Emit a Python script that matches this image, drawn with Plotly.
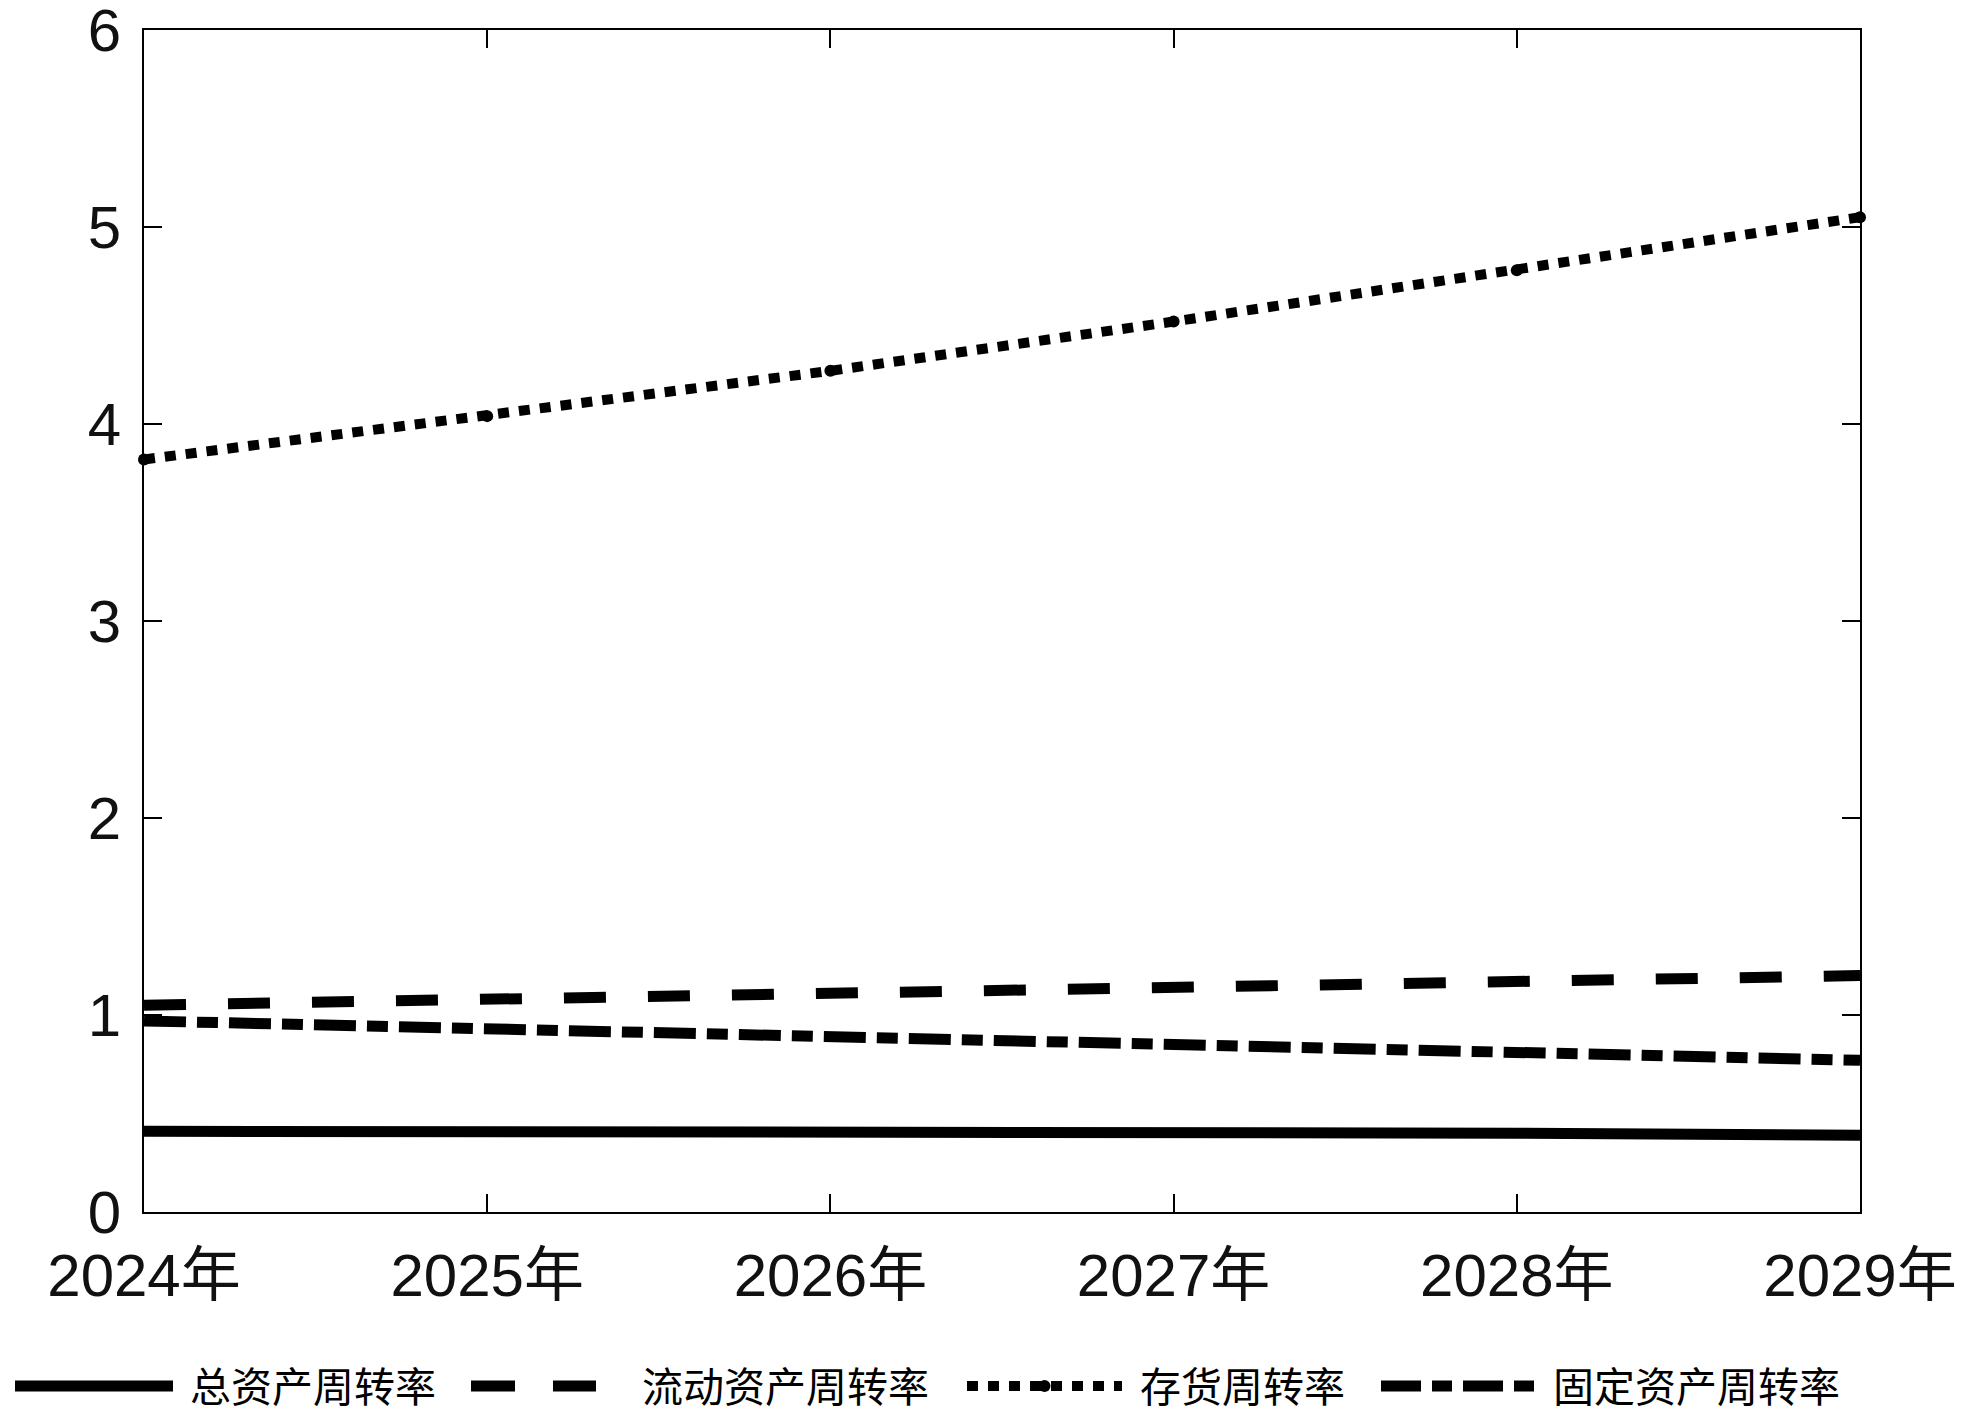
import plotly.graph_objects as go

years = ["2024年", "2025年", "2026年", "2027年", "2028年", "2029年"]
names = ["总资产周转率", "流动资产周转率", "存货周转率", "固定资产周转率"]
total_turnover = [0.41, 0.41, 0.40, 0.40, 0.40, 0.39]
current_turnover = [1.05, 1.08, 1.11, 1.14, 1.17, 1.20]
inventory_turnover = [3.82, 4.04, 4.27, 4.52, 4.78, 5.05]
fixed_turnover = [0.97, 0.93, 0.89, 0.85, 0.81, 0.77]
y_ticks = [0, 1, 2, 3, 4, 5, 6]

series = [total_turnover, current_turnover, inventory_turnover, fixed_turnover]
dashes = ["solid", "42px,42px", "11px,10px", "42px,11px,21px,11px"]
widths = [11, 11, 10, 11]

# page has an 8px body margin; size the figure so it fits the window
OFF = 8
W, H = 1969 - OFF, 1413 - OFF
ML, MR, MT, MB = 144 - OFF, 109, 30 - OFF, 201

fig = go.Figure()
for i, (vals, nm, d) in enumerate(zip(series, names, dashes)):
    fig.add_trace(go.Scatter(
        x=years, y=vals, name=nm,
        mode="lines+markers" if i == 2 else "lines",
        line=dict(color="black", width=widths[i], dash=d),
        marker=dict(color="black", size=12, symbol="circle"),
        cliponaxis=False, showlegend=False,
    ))

tick_font = dict(family="Liberation Sans, Arial, Noto Sans CJK SC", size=60, color="#111")

fig.update_layout(
    width=W, height=H,
    margin=dict(l=ML, r=MR, t=MT, b=MB),
    paper_bgcolor="white", plot_bgcolor="white",
    showlegend=False,
    xaxis=dict(
        type="category", range=[0, 5], tickvals=years, ticktext=years,
        showline=True, linecolor="black", linewidth=2, mirror="ticks",
        ticks="inside", ticklen=18, tickwidth=2, tickcolor="black",
        showgrid=False, zeroline=False, tickfont=tick_font,
        ticklabelstandoff=10, automargin=False, ticklabeloverflow="allow",
    ),
    yaxis=dict(
        range=[0, 6.0001], tickvals=y_ticks,
        showline=True, linecolor="black", linewidth=2, mirror="ticks",
        ticks="inside", ticklen=18, tickwidth=2, tickcolor="black",
        showgrid=False, zeroline=False, tickfont=tick_font,
        ticklabelstandoff=9, automargin=False, ticklabeloverflow="allow",
    ),
)

# custom legend below the plot area (positions in page pixels)
legend_y = 1386 - OFF
text_y = 1384 - OFF
samples = [(15, 173, 188), (471, 596, 640), (967, 1122, 1138), (1381, 1538, 1551)]
leg_dashes = ["solid", "44px,38px", "11px,10px", "40px,11px,20px,11px"]
pw, ph = W - ML - MR, H - MT - MB
px = lambda v: (v - OFF - ML) / pw
py = (H - MB - legend_y) / ph
ty = (H - MB - text_y) / ph
for i, ((x0, x1, tx), nm) in enumerate(zip(samples, names)):
    fig.add_shape(type="line", xref="paper", yref="paper",
                  x0=px(x0), x1=px(x1), y0=py, y1=py,
                  line=dict(color="black", width=widths[i], dash=leg_dashes[i]))
    if i == 2:
        cx = px((x0 + x1) / 2)
        fig.add_shape(type="circle", xref="paper", yref="paper",
                      x0=cx - 6 / pw, x1=cx + 6 / pw,
                      y0=py - 6 / ph, y1=py + 6 / ph,
                      fillcolor="black", line=dict(color="black", width=0))
    fig.add_annotation(xref="paper", yref="paper", x=px(tx), y=ty,
                       xanchor="left", yanchor="middle", showarrow=False,
                       text=nm, font=dict(family="Noto Sans CJK SC", size=41, color="black"))

fig.write_html("out.html")
